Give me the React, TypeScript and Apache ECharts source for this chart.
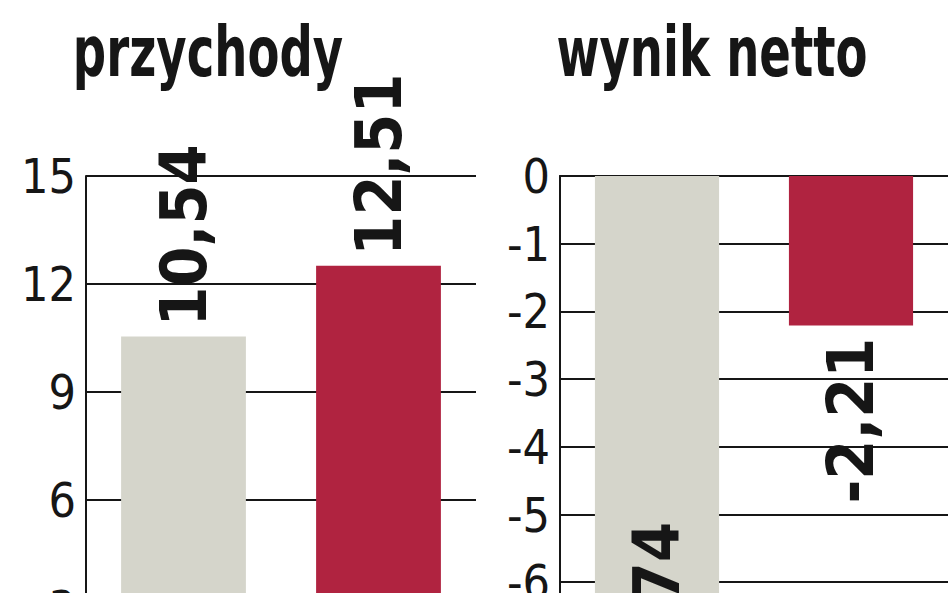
import { useEffect, useRef } from 'react';
import * as echarts from 'echarts';

// two years compared: previous (gray) and current (red)
const categories = ['poprzedni', 'bieżący'];
const revenueValues = [10.54, 12.51];
const netResultValues = [-7.74, -2.21];
const revenueTicks = { min: 0, max: 15, interval: 3 };
const netTicks = { min: -10, max: 0, interval: 1 };

const titles = ['przychody', 'wynik netto'];

const GRAY = '#d5d5cb';
const RED = '#b02340';
const INK = '#161616';
const FONT = '"Liberation Sans Narrow", "DejaVu Sans Condensed", sans-serif';

const labelFont = {
    fontFamily: FONT,
    fontWeight: 'bold' as const,
    fontSize: 64,
    color: INK
};

const fmt = (p: any) => String(p.value).replace('.', ',');

const App = () => {
    const chartRef = useRef<HTMLDivElement>(null);

    useEffect(() => {
        if (!chartRef.current) return;
        const chart = echarts.init(chartRef.current, null, { renderer: 'svg' });

        const yAxisBase = {
            type: 'value' as const,
            axisLine: { show: true, lineStyle: { color: INK, width: 2 } },
            axisTick: { show: false },
            splitLine: { show: true, lineStyle: { color: INK, width: 2 } },
            axisLabel: {
                fontFamily: FONT,
                fontSize: 48,
                color: INK,
                margin: 10,
                showMinLabel: true,
                showMaxLabel: true,
                verticalAlign: 'middle' as const,
                padding: [0, 0, 26, 0]
            }
        };

        const xAxisBase = {
            type: 'category' as const,
            data: categories,
            axisLine: { show: true, lineStyle: { color: INK, width: 2 } },
            axisTick: { show: false },
            axisLabel: { show: false }
        };

        const titleText = (text: string, x: number) => ({
            type: 'text',
            x,
            y: 52,
            scaleX: 0.74,
            style: {
                text,
                font: `bold 70px ${FONT}`,
                fill: INK,
                align: 'center',
                verticalAlign: 'middle'
            }
        });

        chart.setOption({
            animation: false,
            backgroundColor: '#ffffff',
            graphic: [titleText(titles[0], 208), titleText(titles[1], 712)],
            grid: [
                { left: 86, top: 176, width: 390, height: 540 },
                { left: 560, top: 176, width: 390, height: 677 }
            ],
            xAxis: [
                { ...xAxisBase, gridIndex: 0 },
                { ...xAxisBase, gridIndex: 1 }
            ],
            yAxis: [
                { ...yAxisBase, gridIndex: 0, ...revenueTicks },
                { ...yAxisBase, gridIndex: 1, ...netTicks }
            ],
            series: [
                {
                    type: 'bar',
                    xAxisIndex: 0,
                    yAxisIndex: 0,
                    barCategoryGap: '36%',
                    data: revenueValues.map((v, i) => ({
                        value: v,
                        itemStyle: { color: i === 0 ? GRAY : RED }
                    })),
                    label: {
                        show: true,
                        position: 'top',
                        rotate: 90,
                        align: 'left',
                        verticalAlign: 'middle',
                        distance: 10,
                        formatter: fmt,
                        ...labelFont
                    }
                },
                {
                    type: 'bar',
                    xAxisIndex: 1,
                    yAxisIndex: 1,
                    barCategoryGap: '36%',
                    data: netResultValues.map((v, i) => ({
                        value: v,
                        itemStyle: { color: i === 0 ? GRAY : RED },
                        label:
                            i === 0
                                ? { position: 'insideBottom', align: 'left', distance: 12 }
                                : { position: 'bottom', align: 'right', distance: 12 }
                    })),
                    label: {
                        show: true,
                        rotate: 90,
                        verticalAlign: 'middle',
                        formatter: fmt,
                        ...labelFont
                    }
                }
            ]
        });

        return () => {
            chart.dispose();
        };
    }, []);

    // the reference is a crop: the plot runs on below the visible frame
    return (
        <div
            style={{
                position: 'fixed',
                left: 0,
                top: 0,
                width: 948,
                height: 593,
                overflow: 'hidden',
                background: '#fff'
            }}
        >
            <div ref={chartRef} style={{ width: 948, height: 900 }} />
        </div>
    );
};

export default App;
